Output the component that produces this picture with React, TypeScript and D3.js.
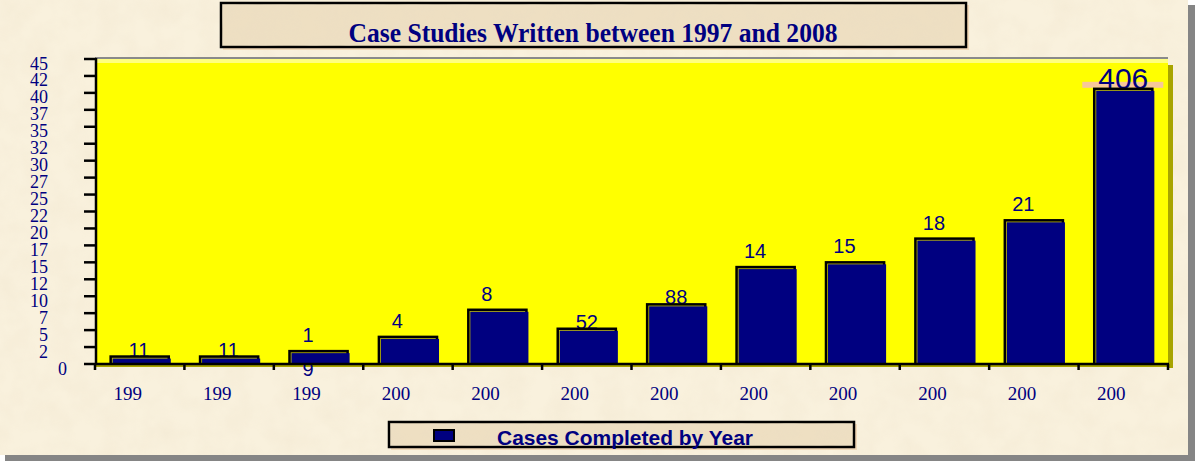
import * as d3 from 'd3'

const years = ['1997', '1998', '1999', '2000', '2001', '2002', '2003', '2004', '2005', '2006', '2007', '2008']
const xTickLabels = ['199', '199', '199', '200', '200', '200', '200', '200', '200', '200', '200', '200']
const cases = [11, 11, 19, 40, 80, 52, 88, 143, 150, 185, 212, 406]
const barLabels = ['11', '11', '1\n9', '4', '8', '52', '88', '14', '15', '18', '21', '406']
const yTicks = [0, 25, 50, 75, 100, 125, 150, 175, 200, 225, 250, 275, 300, 325, 350, 375, 400, 425, 450]
const yTickLabels = ['0', '2', '5', '7', '10', '12', '15', '17', '20', '22', '25', '27', '30', '32', '35', '37', '40', '42', '45']

const W = 1195
const H = 461
const NAVY = '#000080'
const plot = { left: 95, right: 1168, top: 58, bottom: 364 }

export default function App() {
  const x = d3
    .scaleBand<string>()
    .domain(years)
    .range([plot.left, plot.right])
    .paddingInner(0.35)
    .paddingOuter(0.175)

  const y = d3.scaleLinear().domain([0, 450]).range([plot.bottom, plot.top + 1])

  const step = x.step()
  const bw = x.bandwidth()
  const center = (d: string) => (x(d) ?? 0) + bw / 2
  const bounds = years.map(d => center(d) - step / 2).concat([center(years[years.length - 1]) + step / 2])

  const digitW = 0.556 * 20

  return (
    <svg width={W} height={H} style={{ position: 'absolute', left: 0, top: 0, display: 'block' }}>
      <defs>
        <filter id="paper" x="0" y="0" width="100%" height="100%">
          <feTurbulence type="fractalNoise" baseFrequency="0.04" numOctaves={3} seed={4} result="n" />
          <feColorMatrix
            in="n"
            type="matrix"
            values="0 0 0 0 0.82  0 0 0 0 0.72  0 0 0 0 0.55  0 0 0 -1.1 0.75"
          />
          <feComposite in2="SourceGraphic" operator="in" />
        </filter>
        <clipPath id="plotClip">
          <rect x={plot.left} y={plot.top} width={plot.right - plot.left} height={plot.bottom - plot.top} />
        </clipPath>
      </defs>

      {/* page shadow + paper */}
      <rect x={5} y={5} width={W - 5} height={H - 5} fill="#858585" />
      <rect x={0} y={0} width={1188} height={455} fill="#f9f1dd" />
      <rect x={0} y={0} width={1188} height={455} fill="#f9f1dd" filter="url(#paper)" opacity={0.35} />

      {/* title box */}
      <rect x={223} y={5} width={746} height={45} fill="#f2d9b8" />
      <rect x={221} y={3} width={745} height={44} fill="#eedfc2" stroke="#000" strokeWidth={2.5} />
      <rect x={222} y={4} width={743} height={42} fill="#eedfc2" filter="url(#paper)" opacity={0.6} />
      <text
        x={593}
        y={42}
        textAnchor="middle"
        fontFamily="'Liberation Serif', 'Times New Roman', serif"
        fontWeight="bold"
        fontSize={27}
        fill={NAVY}
        textLength={489}
        lengthAdjust="spacingAndGlyphs"
      >
        Case Studies Written between 1997 and 2008
      </text>

      {/* plot area */}
      <rect x={plot.right} y={plot.top + 7} width={5} height={plot.bottom - plot.top - 3} fill="#a8a400" />
      <rect x={plot.left} y={plot.bottom} width={plot.right - plot.left} height={3} fill="#a8a400" />
      <rect x={plot.left} y={plot.top} width={plot.right - plot.left} height={plot.bottom - plot.top} fill="#ffff00" />
      <rect x={plot.left} y={plot.top + 1} width={plot.right - plot.left} height={4} fill="#ffff80" />
      <line x1={plot.left} x2={plot.right} y1={plot.top} y2={plot.top} stroke="#8a8a8a" strokeWidth={2} />

      {/* bar labels (drawn behind bars so wrapped lines hide) */}
      {cases.map((v, i) => {
        const lines = barLabels[i].split('\n')
        const full = String(v)
        const truncated = lines.length > 1 || lines[0] !== full
        const big = i === cases.length - 1
        const fs = big ? 30 : 20
        const top = y(v)
        const cx = center(years[i])
        const startX = big ? cx : cx - (full.length * digitW) / 2 - (truncated ? 5 : 0)
        const base = truncated ? top - 9 : top
        return (
          <g key={`lbl-${i}`}>
            {big && <rect x={cx - 41} y={top - 7} width={81} height={6} fill="#f7c79a" />}
            {lines.map((t, j) => (
              <text
                key={j}
                x={startX}
                y={base + j * 34}
                textAnchor={big ? 'middle' : 'start'}
                fontFamily="'Liberation Sans', Arial, sans-serif"
                fontSize={fs}
                fill={NAVY}
              >
                {t}
              </text>
            ))}
          </g>
        )
      })}

      {/* bars */}
      <g clipPath="url(#plotClip)">
        {cases.map((v, i) => {
          const bx = x(years[i]) ?? 0
          const top = y(v)
          const h = plot.bottom - top
          return (
            <g key={`bar-${i}`}>
              <rect x={bx} y={top} width={bw} height={h + 2} fill="#c8c400" stroke="#000" strokeWidth={2.5} />
              <rect x={bx + 2} y={top + 2} width={bw} height={h} fill={NAVY} />
            </g>
          )
        })}
      </g>

      {/* y axis */}
      <line x1={plot.left + 1} x2={plot.left + 1} y1={plot.top} y2={plot.bottom + 1} stroke="#000" strokeWidth={2.5} />
      {yTicks.map((t, i) => (
        <g key={`yt-${t}`}>
          <line x1={84} x2={plot.left + 1} y1={y(t)} y2={y(t)} stroke="#000" strokeWidth={2.5} />
          <text
            x={i === 0 ? 67 : 48}
            y={i === 0 ? 375 : y(t) + 10.5}
            textAnchor="end"
            fontFamily="'Liberation Serif', 'Times New Roman', serif"
            fontSize={18}
            fill={NAVY}
          >
            {yTickLabels[i]}
          </text>
        </g>
      ))}

      {/* x axis */}
      <line x1={plot.left} x2={plot.right + 1} y1={plot.bottom} y2={plot.bottom} stroke="#000" strokeWidth={2.5} />
      {bounds.map((b, i) => (
        <line key={`xt-${i}`} x1={b} x2={b} y1={plot.bottom} y2={plot.bottom + 6} stroke="#000" strokeWidth={2.5} />
      ))}
      {years.map((d, i) => (
        <text
          key={`xl-${d}`}
          x={center(d) - 12}
          y={400}
          textAnchor="middle"
          fontFamily="'Liberation Serif', 'Times New Roman', serif"
          fontSize={19}
          fill={NAVY}
        >
          {xTickLabels[i]}
        </text>
      ))}

      {/* legend */}
      <rect x={391} y={424} width={466} height={26} fill="#f2d9b8" />
      <rect x={389} y={422} width={465} height={25} fill="#eedfc2" stroke="#000" strokeWidth={2.5} />
      <rect x={390} y={423} width={463} height={23} fill="#eedfc2" filter="url(#paper)" opacity={0.6} />
      <rect x={434} y={430} width={20} height={11} fill={NAVY} stroke="#000" strokeWidth={2} />
      <text
        x={497}
        y={445}
        fontFamily="'Liberation Sans', Arial, sans-serif"
        fontWeight="bold"
        fontSize={21}
        fill={NAVY}
        textLength={256}
        lengthAdjust="spacingAndGlyphs"
      >
        Cases Completed by Year
      </text>
    </svg>
  )
}
